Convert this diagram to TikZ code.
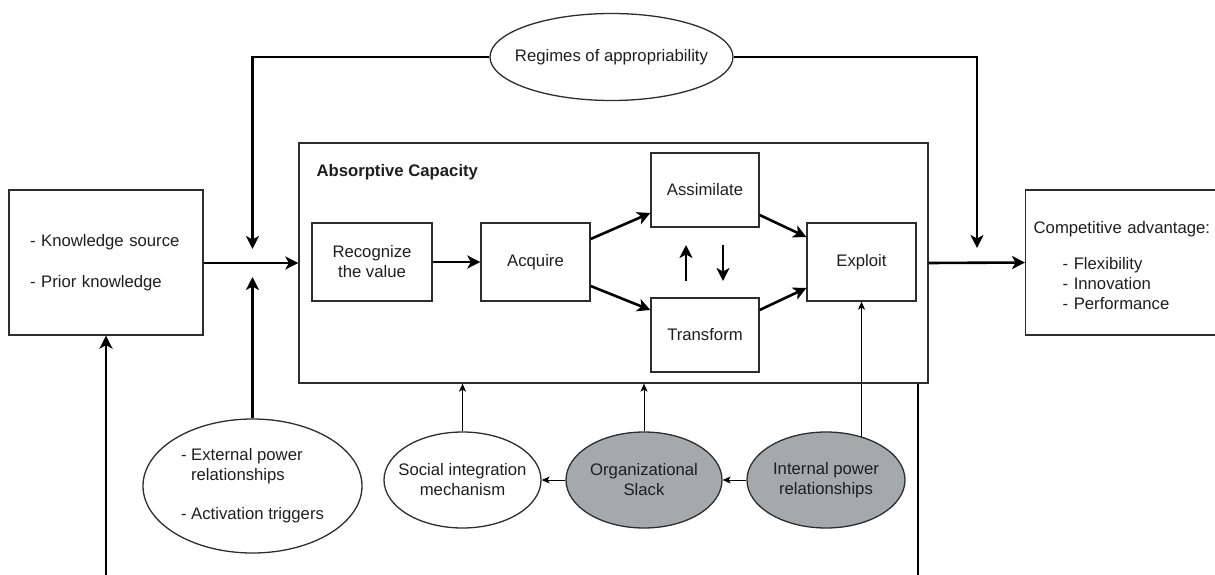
\documentclass[tikz,border=0pt]{standalone}
\usepackage{fontspec}
\setmainfont{Liberation Sans}
\usetikzlibrary{arrows.meta,shapes.geometric}
\definecolor{slack}{RGB}{166,169,171}
\definecolor{ink}{RGB}{30,30,30}
\definecolor{edge}{RGB}{45,45,45}
\begin{document}
\begin{tikzpicture}[x=1pt,y=-1pt,
  every node/.style={font=\fontsize{16.7pt}{20pt}\selectfont, text=ink},
  box/.style={draw=edge, line width=1.3pt, rectangle, inner sep=0pt, align=center},
  % negative separation keeps the ellipse at its given size around wide text
  oval/.style={draw=edge, line width=1.3pt, ellipse, inner xsep=-30pt, inner ysep=-5pt, align=center},
  shaded/.style={oval, fill=slack},
  flow/.style={draw=black, line width=2.6pt, -{Stealth[length=13pt,width=13pt,inset=3.5pt]}},
  feed/.style={draw=black, line width=2.6pt},
  link/.style={draw=black, line width=1pt, -{Stealth[length=8pt,width=7pt,inset=2pt]}}
]
\useasboundingbox (0,0) rectangle (1215,575);
\clip (0,0) rectangle (1215,575);

% knowledge inputs
\node[box, minimum height=145pt, text width=152pt, inner xsep=21pt, align=left] (kb) at (106,262.5)
  {- Knowledge source\\[21pt]- Prior knowledge};

% absorptive capacity frame and its stages
\node[box, minimum width=629pt, minimum height=240pt] (absorp) at (613.5,263) {};
\node[anchor=west, font=\fontsize{16.7pt}{20pt}\selectfont\bfseries] (actitle) at (313,172) {Absorptive Capacity};
\node[box, minimum width=120pt, minimum height=78pt] (rec) at (372,262) {Recognize\\the value};
\node[box, minimum width=109pt, minimum height=78pt] (acq) at (535.5,262) {Acquire};
\node[box, minimum width=108pt, minimum height=74pt] (asm) at (705,190) {Assimilate};
\node[box, minimum width=108pt, minimum height=74pt] (trf) at (705,335) {Transform};
\node[box, minimum width=109pt, minimum height=78pt] (exp) at (861.5,262) {Exploit};

% outcome
\node[box, anchor=west, minimum height=145pt, text width=200pt, inner xsep=8pt, align=left] (comp) at (1025,262.5)
  {\rule{0pt}{18pt}Competitive advantage:\\[16pt]\hspace*{29pt}- Flexibility\\\hspace*{29pt}- Innovation\\\hspace*{29pt}- Performance};

% contingent factors
\node[oval, minimum width=243pt, minimum height=87pt] (reg) at (611.5,57) {Regimes of appropriability};
\node[oval, minimum width=219pt, minimum height=134pt, align=left] (ext) at (252.5,486)
  {- External power\\\hspace*{10pt}relationships\\[19pt]- Activation triggers};
\node[oval, minimum width=157pt, minimum height=96pt] (soc) at (462.5,480) {Social integration\\mechanism};
\node[shaded, minimum width=156pt, minimum height=96pt] (org) at (644,480) {Organizational\\Slack};
\node[shaded, minimum width=158pt, minimum height=96pt] (int) at (826,480) {Internal power\\relationships};

% free ends of connectors
\coordinate (dnL) at (252.5,249);
\coordinate (dnR) at (977,248);
\coordinate (upL) at (252.5,277);
\coordinate (swU0) at (686,281);
\coordinate (swU1) at (686,245);
\coordinate (swD0) at (723,245);
\coordinate (swD1) at (723,281);
\coordinate (fbR) at (918,585);
\coordinate (fbL) at (106,585);

% main flow
\draw[flow] (kb.east |- absorp.east) -- (absorp.west);
\draw[flow] (rec) -- (acq);
\draw[flow] ([yshift=23pt]acq.east) -- ([yshift=-23pt]asm.west);
\draw[flow] ([yshift=-24pt]acq.east) -- ([yshift=25pt]trf.west);
\draw[flow] ([yshift=-25pt]asm.east) -- ([yshift=25pt]exp.west);
\draw[flow] ([yshift=25pt]trf.east) -- ([yshift=-26pt]exp.west);
\draw[flow] (swU0) -- (swU1);
\draw[flow] (swD0) -- (swD1);
\draw[flow] (absorp.east) -- (comp.west);

% moderators
\draw[flow] (reg.west) -| (dnL);
\draw[flow] (reg.east) -| (dnR);
\draw[flow] (ext.north) -- (upL);

% internal mechanisms
\draw[link] (soc.north) -- (soc.north |- absorp.south);
\draw[link] (org.north) -- (org.north |- absorp.south);
\draw[link] (int.50 -| exp.south) -- (exp.south);
\draw[link] (org.west) -- (soc.east);
\draw[link] (int.west) -- (org.east);

% feedback
\draw[feed] (fbR |- absorp.south) -- (fbR);
\draw[flow] (fbL) -- (kb.south);
\end{tikzpicture}
\end{document}
